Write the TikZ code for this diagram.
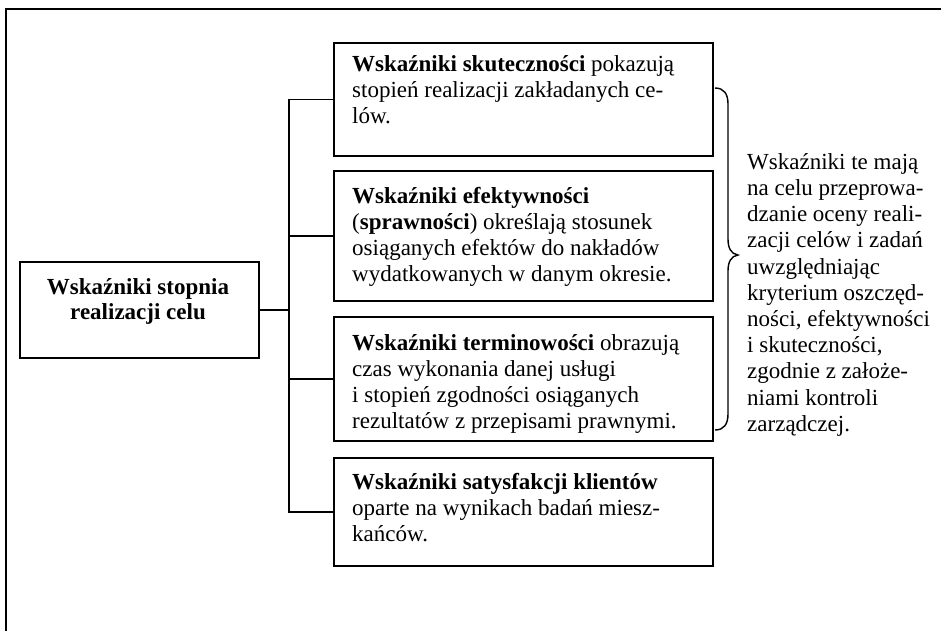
\documentclass[tikz,border=0pt]{standalone}
\usepackage{fontspec}
\setmainfont{Liberation Serif}
\newcommand{\lnstrut}{\rule{0pt}{20pt}}
\begin{document}
\begin{tikzpicture}[x=1pt,y=-1pt,
  boxstyle/.style={draw, line width=1.7pt, inner sep=0pt, anchor=north west},
  txt/.style={inner sep=0pt, anchor=north west, align=left,
    font=\fontsize{23}{26.2}\selectfont},
  ctxt/.style={inner sep=0pt, anchor=north, align=center,
    font=\fontsize{23}{25.5}\selectfont\bfseries},
  conn/.style={line width=1.3pt},
]
\useasboundingbox (0,0) rectangle (941,630);
\clip (0,0) rectangle (941,630);
% outer frame
\draw[line width=2pt] (6,9) rectangle (980,680);
% boxes
\node[boxstyle, minimum width=239pt, minimum height=96pt] (L) at (19,261) {};
\node[boxstyle, minimum width=379pt, minimum height=113pt] (b1) at (333,42) {};
\node[boxstyle, minimum width=379pt, minimum height=130pt] (b2) at (333,170) {};
\node[boxstyle, minimum width=379pt, minimum height=124pt] (b3) at (333,316) {};
\node[boxstyle, minimum width=379pt, minimum height=108pt] (b4) at (333,457) {};
% texts
\node[ctxt] (Lt) at (138,274) {\lnstrut Wskaźniki stopnia\\ realizacji celu};
\node[txt] (t1) at (352,51) {\lnstrut\textbf{Wskaźniki skuteczności} pokazują\\ stopień realizacji zakładanych ce-\\ lów.};
\node[txt] (t2) at (352,183) {\lnstrut\textbf{Wskaźniki efektywności}\\ (\textbf{sprawności}) określają stosunek\\ osiąganych efektów do nakładów\\ wydatkowanych w danym okresie.};
\node[txt] (t3) at (352,330) {\lnstrut\textbf{Wskaźniki terminowości} obrazują\\ czas wykonania danej usługi\\ i stopień zgodności osiąganych\\ rezultatów z przepisami prawnymi.};
\node[txt] (t4) at (352,469) {\lnstrut\textbf{Wskaźniki satysfakcji klientów}\\ oparte na wynikach badań miesz-\\ kańców.};
\node[txt] (rt) at (747,149) {\lnstrut Wskaźniki te mają\\ na celu przeprowa-\\ dzanie oceny reali-\\ zacji celów i zadań\\ uwzględniając\\ kryterium oszczęd-\\ ności, efektywności\\ i skuteczności,\\ zgodnie z założe-\\ niami kontroli\\ zarządczej.};
% connectors
\coordinate (sp) at (289,0);
\draw[conn] (b1.west) -- (b1.west -| sp) -- (b4.west -| sp) -- (b4.west);
\draw[conn] (b2.west) -- (b2.west -| sp);
\draw[conn] (b3.west) -- (b3.west -| sp);
\draw[conn] (L.east) -- (L.east -| sp);
% brace
\draw[line width=1.4pt] (715,88) .. controls (724,88) and (728,94) .. (728,104)
  -- (728,239) .. controls (728,248) and (731,254) .. (738,255)
  .. controls (731,256) and (728,262) .. (728,271)
  -- (728,414) .. controls (728,424) and (724,430) .. (715,430);
\end{tikzpicture}
\end{document}
